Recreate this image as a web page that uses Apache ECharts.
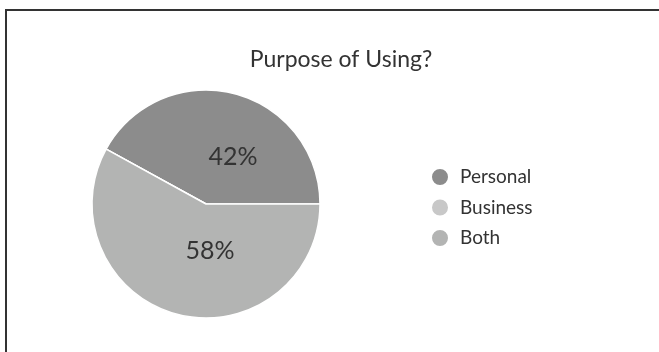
<!DOCTYPE html>
<html>
<head>
<meta charset="utf-8">
<script src="https://cdn.jsdelivr.net/npm/echarts@6/dist/echarts.min.js"></script>
<style>
  html, body { margin: 0; padding: 0; background: #fff; }
  #chart { width: 659px; height: 352px; }
</style>
</head>
<body>
<div id="chart"></div>
<script>
// Survey answers: why people use the product
const titleText = 'Purpose of Using?';
const categories = ['Personal', 'Business', 'Both'];
const shares = [42, 0, 58];
const sliceColors = ['#8c8c8c', '#c8c8c8', '#b3b4b3'];
// nudges for the in-slice percentage labels
const labelOffsets = [[12, 11], [0, 0], [19, -11]];

const fontFamily = 'Lato, "Noto Sans", sans-serif';

const chart = echarts.init(document.getElementById('chart'), null, { renderer: 'canvas' });

const data = categories.map((name, i) => ({
  name,
  value: shares[i],
  itemStyle: { color: sliceColors[i] },
  label: { show: shares[i] > 0, offset: labelOffsets[i] }
}));

chart.setOption({
  animation: false,
  backgroundColor: '#fff',
  title: {
    text: titleText,
    left: 336,
    top: 43,
    textAlign: 'center',
    textStyle: { fontFamily, fontSize: 23, fontWeight: 'normal', color: '#333' }
  },
  legend: {
    orient: 'vertical',
    left: 425,
    top: 162,
    icon: 'circle',
    itemWidth: 18,
    itemHeight: 18,
    itemGap: 10.5,
    data: categories,
    textStyle: { fontFamily, fontSize: 19, lineHeight: 17, color: '#333', padding: [0, 0, 0, 6] }
  },
  graphic: [{
    type: 'rect',
    silent: true,
    shape: { x: 6, y: 10, width: 700, height: 400 },
    style: { fill: 'none', stroke: '#333', lineWidth: 2 }
  }],
  series: [{
    type: 'pie',
    center: [206, 204],
    radius: [0, 114],
    startAngle: 0,
    clockwise: false,
    avoidLabelOverlap: false,
    itemStyle: { borderColor: '#fff', borderWidth: 1.5 },
    label: {
      position: 'inside',
      formatter: '{c}%',
      fontFamily,
      fontSize: 25,
      color: '#333'
    },
    labelLine: { show: false },
    data
  }]
});
</script>
</body>
</html>
